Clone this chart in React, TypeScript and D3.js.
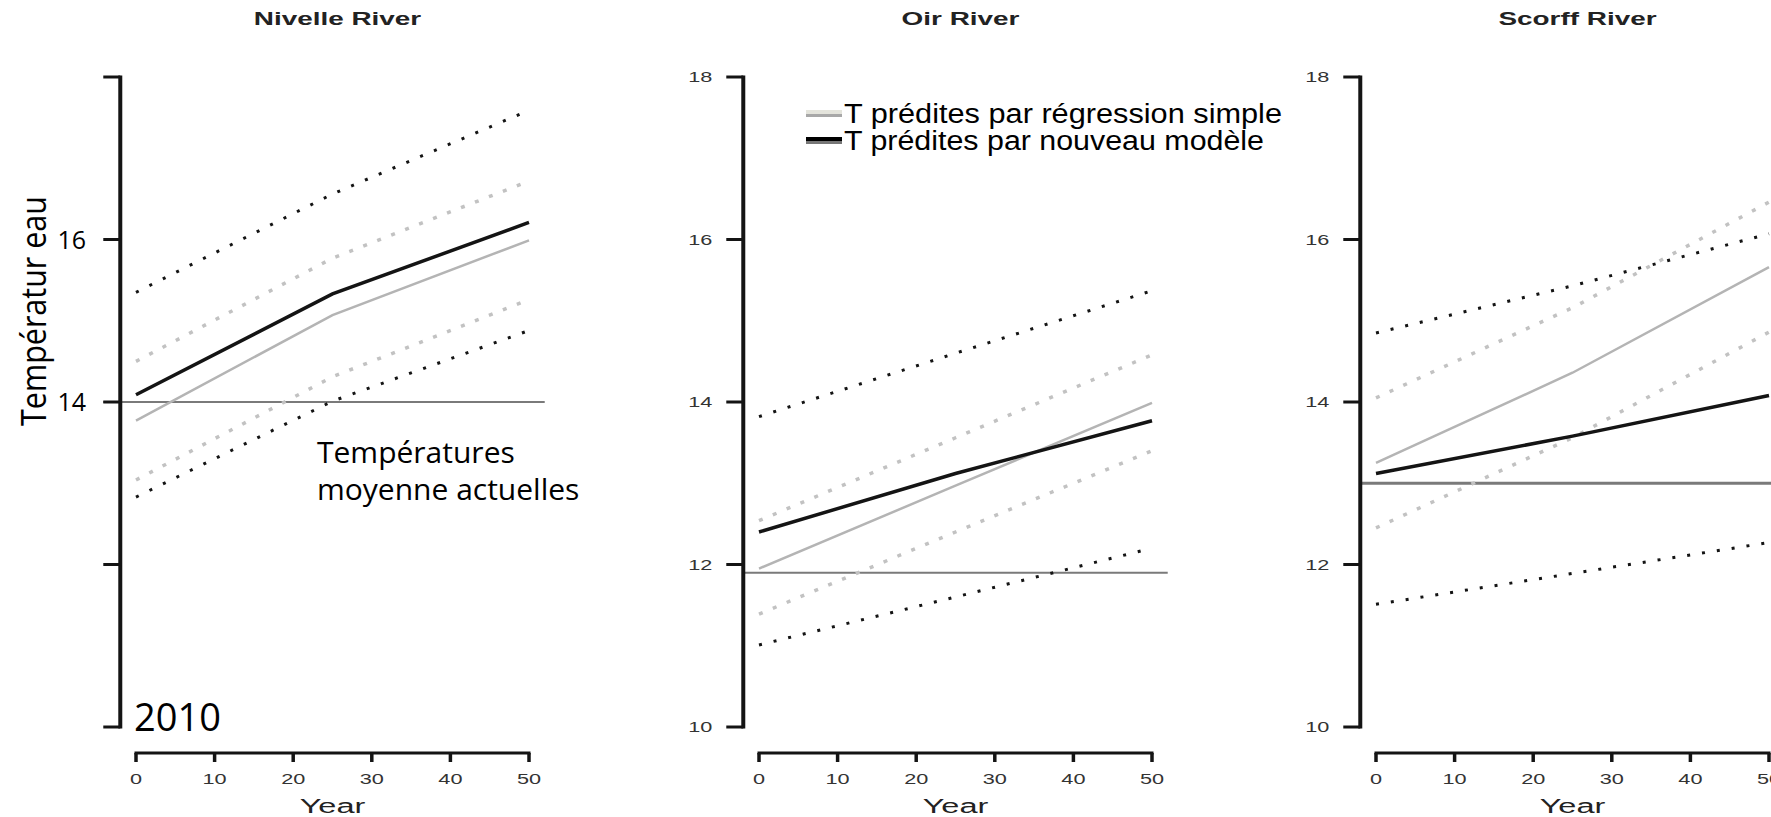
import React from "react";
import * as d3 from "d3";

// ---- data (years 0, 25, 50) ----
const years = [0, 25, 50];
const riverNames = ["Nivelle River", "Oir River", "Scorff River"];
const yTicks = [10, 12, 14, 16, 18];
const xTicks = [0, 10, 20, 30, 40, 50];

const nivelleNew = [14.09, 15.33, 16.21];
const nivelleSimple = [13.77, 15.07, 15.99];
const nivelleNewUpper = [15.35, 16.56, 17.59];
const nivelleNewLower = [12.83, 14.01, 14.88];
const nivelleSimpleUpper = [14.5, 15.77, 16.72];
const nivelleSimpleLower = [13.04, 14.31, 15.26];
const nivelleCurrent = 14.0;

const oirNew = [12.4, 13.12, 13.77];
const oirSimple = [11.95, 12.97, 13.99];
const oirNewUpper = [13.82, 14.6, 15.37];
const oirNewLower = [11.01, 11.6, 12.2];
const oirSimpleUpper = [12.54, 13.56, 14.58];
const oirSimpleLower = [11.39, 12.4, 13.4];
const oirCurrent = 11.9;

const scorffNew = [13.12, 13.58, 14.08];
const scorffSimple = [13.25, 14.36, 15.66];
const scorffNewUpper = [14.85, 15.43, 16.07];
const scorffNewLower = [11.51, 11.89, 12.27];
const scorffSimpleUpper = [14.05, 15.16, 16.46];
const scorffSimpleLower = [12.45, 13.56, 14.86];
const scorffCurrent = 13.0;

const legendLabels = ["T prédites par régression simple", "T prédites par nouveau modèle"];
const yAxisTitle = "Températur eau";
const annotationLines = ["Températures", "moyenne actuelles"];
const yearNote = "2010";
const nivelleShownTicks = ["16", "14"];

const series = [
  { name: riverNames[0], nw: nivelleNew, sm: nivelleSimple, nu: nivelleNewUpper, nl: nivelleNewLower, su: nivelleSimpleUpper, sl: nivelleSimpleLower, cur: nivelleCurrent },
  { name: riverNames[1], nw: oirNew, sm: oirSimple, nu: oirNewUpper, nl: oirNewLower, su: oirSimpleUpper, sl: oirSimpleLower, cur: oirCurrent },
  { name: riverNames[2], nw: scorffNew, sm: scorffSimple, nu: scorffNewUpper, nl: scorffNewLower, su: scorffSimpleUpper, sl: scorffSimpleLower, cur: scorffCurrent },
];

// ---- layout ----
const W = 1771;
const H = 817;
const panelX0 = [136, 759, 1376];
const panelW = 393;
const yTop = 77;
const yBottom = 727;
const xAxisY = 753;
const SX = 1.55; // horizontal stretch of the R graphics text

const y = d3.scaleLinear().domain([10, 18]).range([yBottom, yTop]);

const BLACK = "#141414";
const GRAY = "#b4b4b4";
const GRAYDOT = "#c2c2c2";
const RFONT = "Liberation Sans, Arial, sans-serif";

function Panel({ s, i }: { s: any; i: number }) {
  const x0 = panelX0[i];
  const x = d3.scaleLinear().domain([0, 50]).range([x0, x0 + panelW]);
  const axisX = x(-2);
  const line = (vals: number[]) =>
    d3.line<number>().x((_, k) => x(years[k])).y((v) => y(v)).curve(d3.curveLinear)(vals) || "";
  const center = x(25);
  const hStart = i === 0 ? axisX - 17 : axisX;
  const hEnd = Math.min(x(52), W + 20);
  return (
    <g>
      <text
        transform={`translate(${center + 5},25) scale(${SX},1)`}
        textAnchor="middle"
        fontFamily={RFONT}
        fontWeight="bold"
        fontSize={18}
        fill="#222"
      >
        {s.name}
      </text>
      <line x1={hStart} x2={hEnd} y1={y(s.cur)} y2={y(s.cur)} stroke="#7a7a7a" strokeWidth={i === 2 ? 3 : 2} />
      <path d={line(s.su)} fill="none" stroke={GRAYDOT} strokeWidth={3.5} strokeDasharray="4 11" />
      <path d={line(s.sl)} fill="none" stroke={GRAYDOT} strokeWidth={3.5} strokeDasharray="4 11" />
      <path d={line(s.nu)} fill="none" stroke={BLACK} strokeWidth={3} strokeDasharray="3 12" />
      <path d={line(s.nl)} fill="none" stroke={BLACK} strokeWidth={3} strokeDasharray="3 12" />
      <path d={line(s.sm)} fill="none" stroke={GRAY} strokeWidth={2.5} />
      <path d={line(s.nw)} fill="none" stroke={BLACK} strokeWidth={3.5} />
      <line x1={axisX} x2={axisX} y1={y(18) - 1.5} y2={y(10) + 1.5} stroke={BLACK} strokeWidth={4} />
      {yTicks.map((t) => (
        <g key={t}>
          <line x1={axisX - 17} x2={axisX} y1={y(t)} y2={y(t)} stroke={BLACK} strokeWidth={3} />
          {i > 0 && (
            <text
              transform={`translate(${axisX - 31},${y(t) + 5}) scale(${SX},1)`}
              textAnchor="end"
              fontFamily={RFONT}
              fontSize={14}
              fill="#333"
            >
              {t}
            </text>
          )}
        </g>
      ))}
      <line x1={x(0) - 1.5} x2={x(50) + 1.5} y1={xAxisY} y2={xAxisY} stroke={BLACK} strokeWidth={3} />
      {xTicks.map((t) => (
        <g key={t}>
          <line x1={x(t)} x2={x(t)} y1={xAxisY} y2={xAxisY + 9} stroke={BLACK} strokeWidth={3.5} />
          <text
            transform={`translate(${x(t)},${784}) scale(${SX},1)`}
            textAnchor="middle"
            fontFamily={RFONT}
            fontSize={14}
            fill="#333"
          >
            {t}
          </text>
        </g>
      ))}
      <text
        transform={`translate(${center},${813}) scale(${SX},1)`}
        textAnchor="middle"
        fontFamily={RFONT}
        fontSize={21}
        fill="#222"
      >
        Year
      </text>
    </g>
  );
}

export default function App() {
  const comic = "Open Sans, sans-serif";
  return (
    <svg
      width={W}
      height={H}
      viewBox={`0 0 ${W} ${H}`}
      style={{ position: "fixed", left: 0, top: 0, background: "#fff" }}
    >
      <rect x={0} y={0} width={W} height={H} fill="#fff" />
      {series.map((s, i) => (
        <Panel key={s.name} s={s} i={i} />
      ))}
      {nivelleShownTicks.map((t) => (
        <text key={t} x={86} y={y(+t) + 9} textAnchor="end" fontFamily={comic} fontSize={25} fill="#000">
          {t}
        </text>
      ))}
      <text
        transform={`translate(46,311) rotate(-90)`}
        textAnchor="middle"
        fontFamily={comic}
        fontSize={35}
        textLength={230}
        lengthAdjust="spacingAndGlyphs"
        fill="#000"
      >
        {yAxisTitle}
      </text>
      {annotationLines.map((l, k) => (
        <text key={l} x={317} y={463 + k * 37} fontFamily={comic} fontSize={30} fill="#000">
          {l}
        </text>
      ))}
      <text x={134} y={731} fontFamily={comic} fontSize={38} fill="#000">
        {yearNote}
      </text>
      {legendLabels.map((l, k) => (
        <g key={l}>
          <rect x={806} y={110 + k * 27} width={36} height={4} fill={k === 0 ? "#e4e4dc" : "#000"} />
          <rect x={806} y={114 + k * 27} width={36} height={3} fill={k === 0 ? "#a8a8a8" : "#777"} />
          <text
            x={844}
            y={123 + k * 27}
            fontFamily={RFONT}
            fontSize={27}
            textLength={k === 0 ? 438 : 420}
            lengthAdjust="spacingAndGlyphs"
            fill="#000"
          >
            {l}
          </text>
        </g>
      ))}
    </svg>
  );
}
